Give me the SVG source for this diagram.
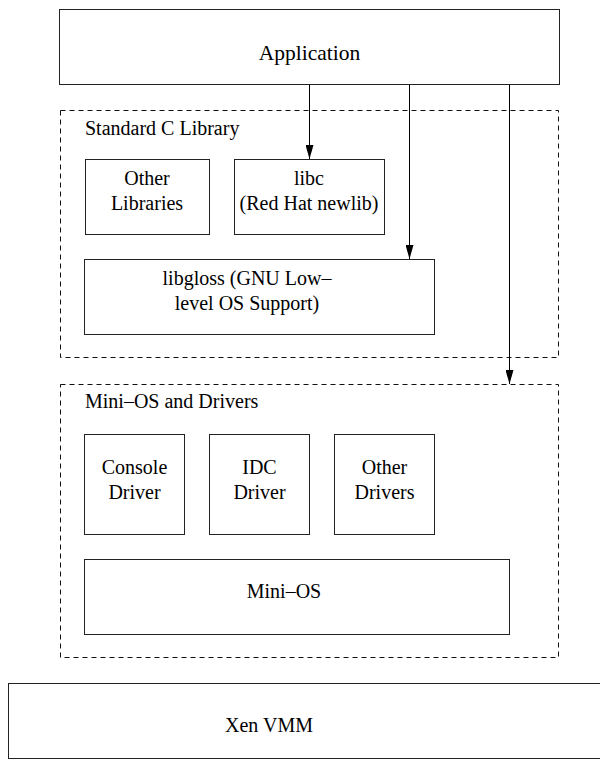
<svg xmlns="http://www.w3.org/2000/svg" width="600" height="759" viewBox="0 0 600 759">
<style>
.box{fill:none;stroke:#222;stroke-width:1}
.dash{fill:none;stroke:#111;stroke-width:1;stroke-dasharray:5,4}
.t{font-family:'Liberation Serif',serif;font-size:20px;fill:#000}
.c{text-anchor:middle}
.conn{stroke:#000;stroke-width:1;fill:none}
</style>
<defs>
<marker id="ah" markerWidth="14" markerHeight="8" refX="14" refY="4" orient="auto" markerUnits="userSpaceOnUse">
<path d="M0,0 L14,4 L0,8 Z" fill="#000"/>
</marker>
</defs>
<rect width="600" height="759" fill="#fff"/>
<g id="application">
<rect class="box" x="59.5" y="9.5" width="500" height="75"/>
<text class="t c" x="309.5" y="59.5" font-family="Liberation Serif" style="font-size:21.5px">Application</text>
</g>
<g id="stdclib">
<rect class="dash" x="60.5" y="110.5" width="498" height="247"/>
<text class="t" x="85" y="135" font-family="Liberation Serif">Standard C Library</text>
</g>
<g id="otherlibs">
<rect class="box" x="85.5" y="159.5" width="124" height="75"/>
<text class="t c" x="147" y="185" font-family="Liberation Serif">Other</text>
<text class="t c" x="147" y="210" font-family="Liberation Serif">Libraries</text>
</g>
<g id="libc">
<rect class="box" x="234.5" y="159.5" width="150" height="75"/>
<text class="t c" x="309" y="185" font-family="Liberation Serif">libc</text>
<text class="t c" x="309" y="210" font-family="Liberation Serif">(Red Hat newlib)</text>
</g>
<g id="libgloss">
<rect class="box" x="84.5" y="259.5" width="350" height="75"/>
<text class="t c" x="247" y="285" font-family="Liberation Serif">libgloss (GNU Low–</text>
<text class="t c" x="247" y="310" font-family="Liberation Serif">level OS Support)</text>
</g>
<g id="minios-drivers">
<rect class="dash" x="60.5" y="384.5" width="498" height="273"/>
<text class="t" x="85" y="408" font-family="Liberation Serif">Mini–OS and Drivers</text>
</g>
<g id="console">
<rect class="box" x="84.5" y="434.5" width="100" height="100"/>
<text class="t c" x="134.5" y="474" font-family="Liberation Serif">Console</text>
<text class="t c" x="134.5" y="499" font-family="Liberation Serif">Driver</text>
</g>
<g id="idc">
<rect class="box" x="209.5" y="434.5" width="100" height="100"/>
<text class="t c" x="259.5" y="474" font-family="Liberation Serif">IDC</text>
<text class="t c" x="259.5" y="499" font-family="Liberation Serif">Driver</text>
</g>
<g id="otherdrivers">
<rect class="box" x="334.5" y="434.5" width="100" height="100"/>
<text class="t c" x="384.5" y="474" font-family="Liberation Serif">Other</text>
<text class="t c" x="384.5" y="499" font-family="Liberation Serif">Drivers</text>
</g>
<g id="minios">
<rect class="box" x="84.5" y="559.5" width="425" height="75"/>
<text class="t c" x="284" y="598" font-family="Liberation Serif">Mini–OS</text>
</g>
<g id="xen">
<rect class="box" x="8.5" y="683.5" width="600" height="75"/>
<text class="t c" x="269" y="732" font-family="Liberation Serif">Xen VMM</text>
</g>
<g id="connectors">
<line class="conn" x1="309.5" y1="85" x2="309.5" y2="159" marker-end="url(#ah)"/>
<line class="conn" x1="409.5" y1="85" x2="409.5" y2="259" marker-end="url(#ah)"/>
<line class="conn" x1="509.5" y1="85" x2="509.5" y2="384" marker-end="url(#ah)"/>
</g>
</svg>
